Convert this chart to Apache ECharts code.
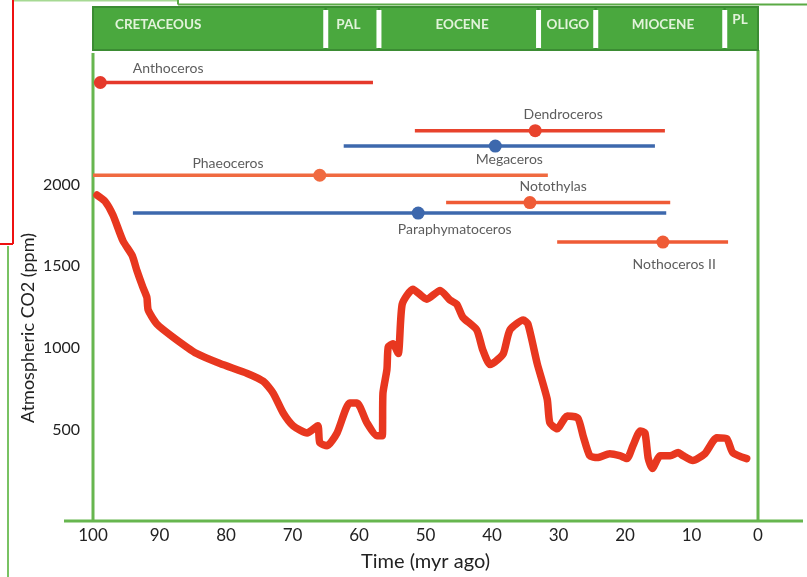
<!DOCTYPE html>
<html>
<head>
<meta charset="utf-8">
<script src="https://cdn.jsdelivr.net/npm/echarts@6/dist/echarts.min.js"></script>
<style>
html,body{margin:0;padding:0;background:#fff;}
#chart{width:807px;height:577px;}
</style>
</head>
<body>
<div id="chart"></div>
<script>
// ---- Data ----
const periodNames = ['CRETACEOUS', 'PAL', 'EOCENE', 'OLIGO', 'MIOCENE', 'PL'];
const periodStart = [100, 65, 57, 33, 24.4, 5];
const periodEnd   = [65, 57, 33, 24.4, 5, 0];
const periodLabelAt = [90.2, 61.6, 44.5, 28.6, 14.3, 2.7];

const taxa        = ['Anthoceros', 'Dendroceros', 'Megaceros', 'Phaeoceros', 'Notothylas', 'Paraphymatoceros', 'Nothoceros II'];
const taxaFrom    = [98.9, 51.6, 62.3, 100, 46.9, 94.0, 30.2];
const taxaTo      = [57.9, 14.0, 15.5, 31.6, 13.2, 13.8, 4.5];
const taxaDot     = [98.9, 33.5, 39.5, 65.9, 34.3, 51.1, 14.3];
const taxaLevel   = [2622, 2328, 2234, 2056, 1889, 1825, 1648];
const taxaLabelAt    = [88.7, 29.3, 37.4, 79.7, 30.8, 45.6, 12.6];
const taxaLabelLevel = [2707, 2429, 2151, 2127, 1988, 1724, 1512];

const co2Age = [99.4, 98.2, 97.0, 95.5, 94.1, 93.4, 92.5, 91.9, 91.7, 90.4, 88.0, 84.4, 80.9, 76.8, 74.4, 72.9, 71.4, 69.9, 67.8, 66.2,
  65.9, 64.8, 63.3, 61.4, 60.3, 58.8, 57.3, 56.5, 56.4, 55.8, 55.6, 54.9, 54.1, 53.5, 51.9, 49.8, 47.8, 46.3, 45.3, 44.4,
  42.3, 41.4, 40.3, 39.5, 38.3, 37.3, 35.3, 34.6, 33.2, 31.7, 31.3, 30.2, 28.7, 27.1, 26.3, 25.3, 24.2, 22.3, 20.8, 19.7,
  18.8, 17.7, 17.0, 16.5, 15.9, 14.7, 13.2, 12.0, 11.3, 9.8, 8.0, 6.2, 4.7, 3.8, 1.7];
const co2Ppm = [1935, 1897, 1813, 1656, 1565, 1474, 1372, 1311, 1233, 1148, 1069, 967, 906, 846, 798, 725, 604, 526, 483, 526,
  423, 405, 483, 665, 665, 544, 465, 465, 725, 870, 1009, 1027, 967, 1269, 1360, 1299, 1353, 1293, 1269, 1190,
  1112, 991, 900, 918, 967, 1112, 1172, 1148, 906, 689, 544, 508, 586, 574, 465, 344, 332, 356, 344, 326,
  405, 495, 483, 326, 266, 344, 344, 363, 344, 314, 356, 453, 447, 363, 326];

const yTickLabels = [500, 1000, 1500, 2000];

// ---- Styles ----
const taxaColor = {
  'Anthoceros': '#e5392b', 'Dendroceros': '#e8432d', 'Megaceros': '#3d68ad',
  'Phaeoceros': '#f06a40', 'Notothylas': '#ef5b36', 'Paraphymatoceros': '#3d68ad', 'Nothoceros II': '#ef5b36'
};
const FONT = 'Lato, "Open Sans", sans-serif';
const GREEN = '#67b64f';

const chart = echarts.init(document.getElementById('chart'), null, {renderer: 'canvas'});

const bandData = periodNames.map((n, i) => [periodStart[i], periodEnd[i], periodLabelAt[i], 0, n]);

const series = [];

// Geologic period band
series.push({
  type: 'custom',
  clip: false,
  silent: true,
  z: 1,
  encode: {x: [0, 1], y: 3},
  data: bandData,
  renderItem: function (params, api) {
    const x0 = api.coord([api.value(0), 0])[0];
    const x1 = api.coord([api.value(1), 0])[0];
    const xl = api.coord([api.value(2), 0])[0];
    const name = bandData[params.dataIndex][4];
    const top = 7, bottom = 50;
    const children = [{
      type: 'rect',
      shape: {x: x0, y: top, width: x1 - x0, height: bottom - top},
      style: {fill: '#4aa83e', stroke: '#3b8c33', lineWidth: 2}
    }];
    if (params.dataIndex > 0) {
      children.push({
        type: 'rect',
        shape: {x: x0 - 2.5, y: 10, width: 5, height: 38},
        style: {fill: '#ffffff'}
      });
    }
    children.push({
      type: 'text',
      style: {
        x: xl, y: name === 'PL' ? 20 : 25,
        text: name, textAlign: 'center', textVerticalAlign: 'middle',
        fill: '#e2f3da', font: 'bold 13.5px ' + FONT
      }
    });
    return {type: 'group', children: children};
  }
});

// CO2 curve
series.push({
  type: 'line',
  name: 'CO2',
  data: co2Age.map((a, i) => [a, co2Ppm[i]]),
  symbol: 'none',
  smooth: 0.2,
  z: 3,
  lineStyle: {color: '#e8371f', width: 7.5, cap: 'round', join: 'round'}
});

// Taxa ranges
taxa.forEach((t, i) => {
  series.push({
    type: 'line',
    name: t,
    data: [[taxaFrom[i], taxaLevel[i]], [taxaTo[i], taxaLevel[i]]],
    symbol: 'none',
    z: 4,
    lineStyle: {color: taxaColor[t], width: 3.5}
  });
});

series.push({
  type: 'scatter',
  name: 'dots',
  symbolSize: 13,
  z: 5,
  data: taxa.map((t, i) => ({value: [taxaDot[i], taxaLevel[i]], itemStyle: {color: taxaColor[t], opacity: 1}}))
});

series.push({
  type: 'scatter',
  name: 'labels',
  symbolSize: 0,
  z: 6,
  data: taxa.map((t, i) => ({name: t, value: [taxaLabelAt[i], taxaLabelLevel[i]]})),
  label: {
    show: true, position: 'inside', formatter: '{b}',
    color: '#333', fontSize: 14, fontFamily: FONT
  }
});

const option = {
  animation: false,
  backgroundColor: '#ffffff',
  grid: {left: 93, right: 49, top: 55, bottom: 60, containLabel: false},
  xAxis: {
    type: 'value', min: 0, max: 100, interval: 10, inverse: true,
    offset: 4,
    axisLine: {show: false}, axisTick: {show: false}, splitLine: {show: false},
    axisLabel: {color: '#222', fontSize: 17, fontFamily: FONT, margin: 11},
    name: 'Time (myr ago)', nameLocation: 'middle', nameGap: 36,
    nameTextStyle: {color: '#222', fontSize: 20, fontFamily: FONT}
  },
  yAxis: {
    type: 'value', min: 0, max: 2790, interval: 500,
    axisLine: {show: false}, axisTick: {show: false}, splitLine: {show: false},
    axisLabel: {
      color: '#222', fontSize: 16, fontFamily: FONT, margin: 13,
      formatter: function (v) { return yTickLabels.indexOf(v) >= 0 ? String(v) : ''; }
    }
  },
  graphic: [
    // frame
    {type: 'line', z: 0, shape: {x1: 93, y1: 53, x2: 93, y2: 521}, style: {stroke: GREEN, lineWidth: 3}},
    {type: 'line', z: 0, shape: {x1: 758, y1: 50, x2: 758, y2: 521}, style: {stroke: GREEN, lineWidth: 3}},
    {type: 'line', z: 0, shape: {x1: 64, y1: 521, x2: 803, y2: 521}, style: {stroke: GREEN, lineWidth: 3}},
    // axis title
    {type: 'text', x: 28, y: 328, rotation: Math.PI / 2,
      style: {text: 'Atmospheric CO2 (ppm)', textAlign: 'center', textVerticalAlign: 'middle', fill: '#222', font: '18px ' + FONT}},
    // overlay marks present in the reference image
    {type: 'line', shape: {x1: 13, y1: 0, x2: 13, y2: 244}, style: {stroke: '#ee1111', lineWidth: 2}},
    {type: 'line', shape: {x1: 0, y1: 244, x2: 13, y2: 244}, style: {stroke: '#ee1111', lineWidth: 2}},
    {type: 'line', shape: {x1: 14, y1: 0.5, x2: 178, y2: 0.5}, style: {stroke: '#a6d993', lineWidth: 2}},
    {type: 'line', shape: {x1: 178, y1: 0, x2: 178, y2: 4.5}, style: {stroke: '#5aaa45', lineWidth: 2}},
    {type: 'line', shape: {x1: 178, y1: 4.5, x2: 807, y2: 4.5}, style: {stroke: '#5aaa45', lineWidth: 2}},
    {type: 'line', shape: {x1: 8, y1: 246, x2: 8, y2: 577}, style: {stroke: '#79c263', lineWidth: 2}}
  ],
  series: series
};

chart.setOption(option);
</script>
</body>
</html>
